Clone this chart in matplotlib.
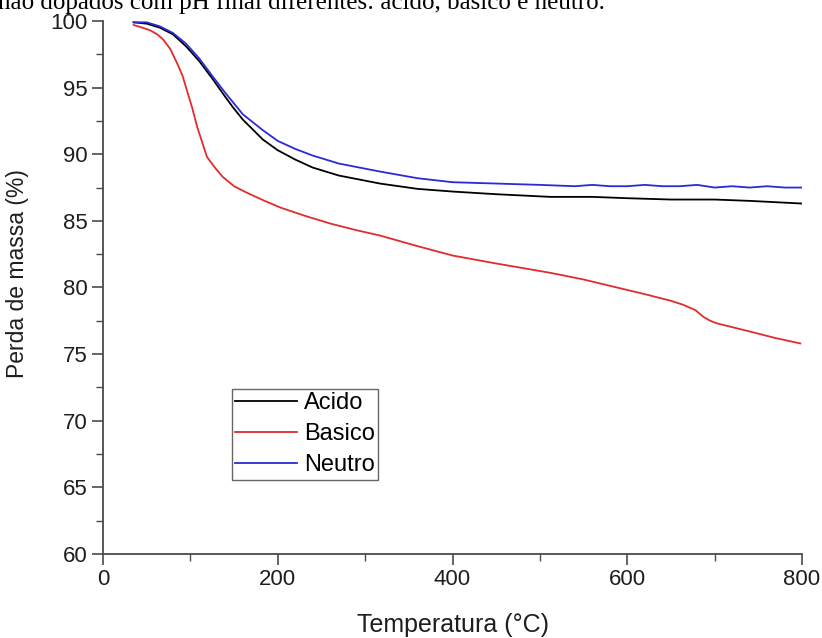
import matplotlib
matplotlib.use("Agg")
import matplotlib.pyplot as plt
from matplotlib.ticker import MultipleLocator

plt.rcParams["font.family"] = ["Liberation Sans", "DejaVu Sans"]

# temperature (°C) and mass (%) for each sample
temp_acido = [35, 50, 65, 80, 95, 110, 126, 140, 149, 160, 183, 200, 220, 240, 270, 317,
              360, 400, 450, 512, 560, 600, 650, 700, 740, 770, 800]
mass_acido = [99.9, 99.8, 99.5, 99.0, 98.1, 97.0, 95.6, 94.3, 93.5, 92.6, 91.1, 90.3, 89.6,
              89.0, 88.4, 87.8, 87.4, 87.2, 87.0, 86.8, 86.8, 86.7, 86.6, 86.6, 86.5, 86.4, 86.3]

temp_basico = [35, 45, 54, 62, 69, 77, 85, 91, 96, 102, 108, 114, 119, 128, 137, 150, 165,
               185, 203, 230, 260, 290, 317, 360, 400, 450, 512, 550, 588, 620, 650, 664,
               678, 687, 695, 703, 740, 770, 798]
mass_basico = [99.7, 99.5, 99.3, 99.0, 98.6, 97.9, 96.8, 95.9, 94.8, 93.5, 92.0, 90.8, 89.8,
               89.0, 88.3, 87.6, 87.1, 86.5, 86.0, 85.4, 84.8, 84.3, 83.9, 83.1, 82.4, 81.8,
               81.1, 80.6, 80.0, 79.5, 79.0, 78.7, 78.3, 77.8, 77.5, 77.3, 76.7, 76.2, 75.8]

temp_neutro = [35, 50, 65, 80, 95, 110, 126, 140, 150, 160, 183, 200, 220, 240, 270, 317,
               360, 400, 450, 500, 540, 560, 580, 600, 620, 640, 660, 680, 700, 720, 740,
               760, 780, 800]
mass_neutro = [99.9, 99.9, 99.6, 99.1, 98.3, 97.2, 95.8, 94.6, 93.8, 93.0, 91.8, 91.0, 90.4,
               89.9, 89.3, 88.7, 88.2, 87.9, 87.8, 87.7, 87.6, 87.7, 87.6, 87.6, 87.7, 87.6,
               87.6, 87.7, 87.5, 87.6, 87.5, 87.6, 87.5, 87.5]

x_ticks = [0, 200, 400, 600, 800]
y_ticks = [60, 65, 70, 75, 80, 85, 90, 95, 100]

axis_grey = "#4a4a4a"
text_col = "#1e1e1e"

fig = plt.figure(figsize=(8.22, 6.38), dpi=100)
ax = fig.add_axes([0.1253, 0.1317, 0.8504, 0.8354])

ax.plot(temp_acido, mass_acido, color="black", lw=1.3, label="Acido")
ax.plot(temp_basico, mass_basico, color="#e32b2b", lw=1.3, label="Basico")
ax.plot(temp_neutro, mass_neutro, color="#2a2ad6", lw=1.3, label="Neutro")

ax.set_xlim(0, 800)
ax.set_ylim(60, 100)
ax.set_xticks(x_ticks)
ax.set_yticks(y_ticks)
ax.xaxis.set_minor_locator(MultipleLocator(100))
ax.yaxis.set_minor_locator(MultipleLocator(2.5))

for side in ("top", "right"):
    ax.spines[side].set_visible(False)
for side in ("left", "bottom"):
    ax.spines[side].set_color(axis_grey)
    ax.spines[side].set_linewidth(1.3)

ax.tick_params(which="major", direction="out", length=8, width=1.2, color=axis_grey,
               labelsize=16, labelcolor=text_col, pad=3)
ax.tick_params(which="minor", direction="out", length=5, width=1.0, color=axis_grey)

ax.set_xlabel("Temperatura (°C)", fontsize=18, color=text_col)
ax.set_ylabel("Perda de massa (%)", fontsize=16.5, color=text_col)
ax.xaxis.set_label_coords(0.5, -0.111)
ax.yaxis.set_label_coords(-0.106, 0.527)

leg = ax.legend(loc="lower left", bbox_to_anchor=(0.184, 0.139), fontsize=17,
                handlelength=2.6, handletextpad=0.3, labelspacing=0.38,
                borderpad=0.15, borderaxespad=0, fancybox=False, framealpha=1)
leg.get_frame().set_edgecolor("#666666")
leg.get_frame().set_linewidth(1.0)

# caption line above the chart, partly outside the canvas
fig.text(-0.002, 1 - 9 / 638, "não dopados com pH final diferentes: ácido, básico e neutro.",
         family=["Liberation Serif", "DejaVu Serif"], fontsize=18, va="baseline",
         ha="left", color="black")

fig.savefig("out.png", dpi=100)
